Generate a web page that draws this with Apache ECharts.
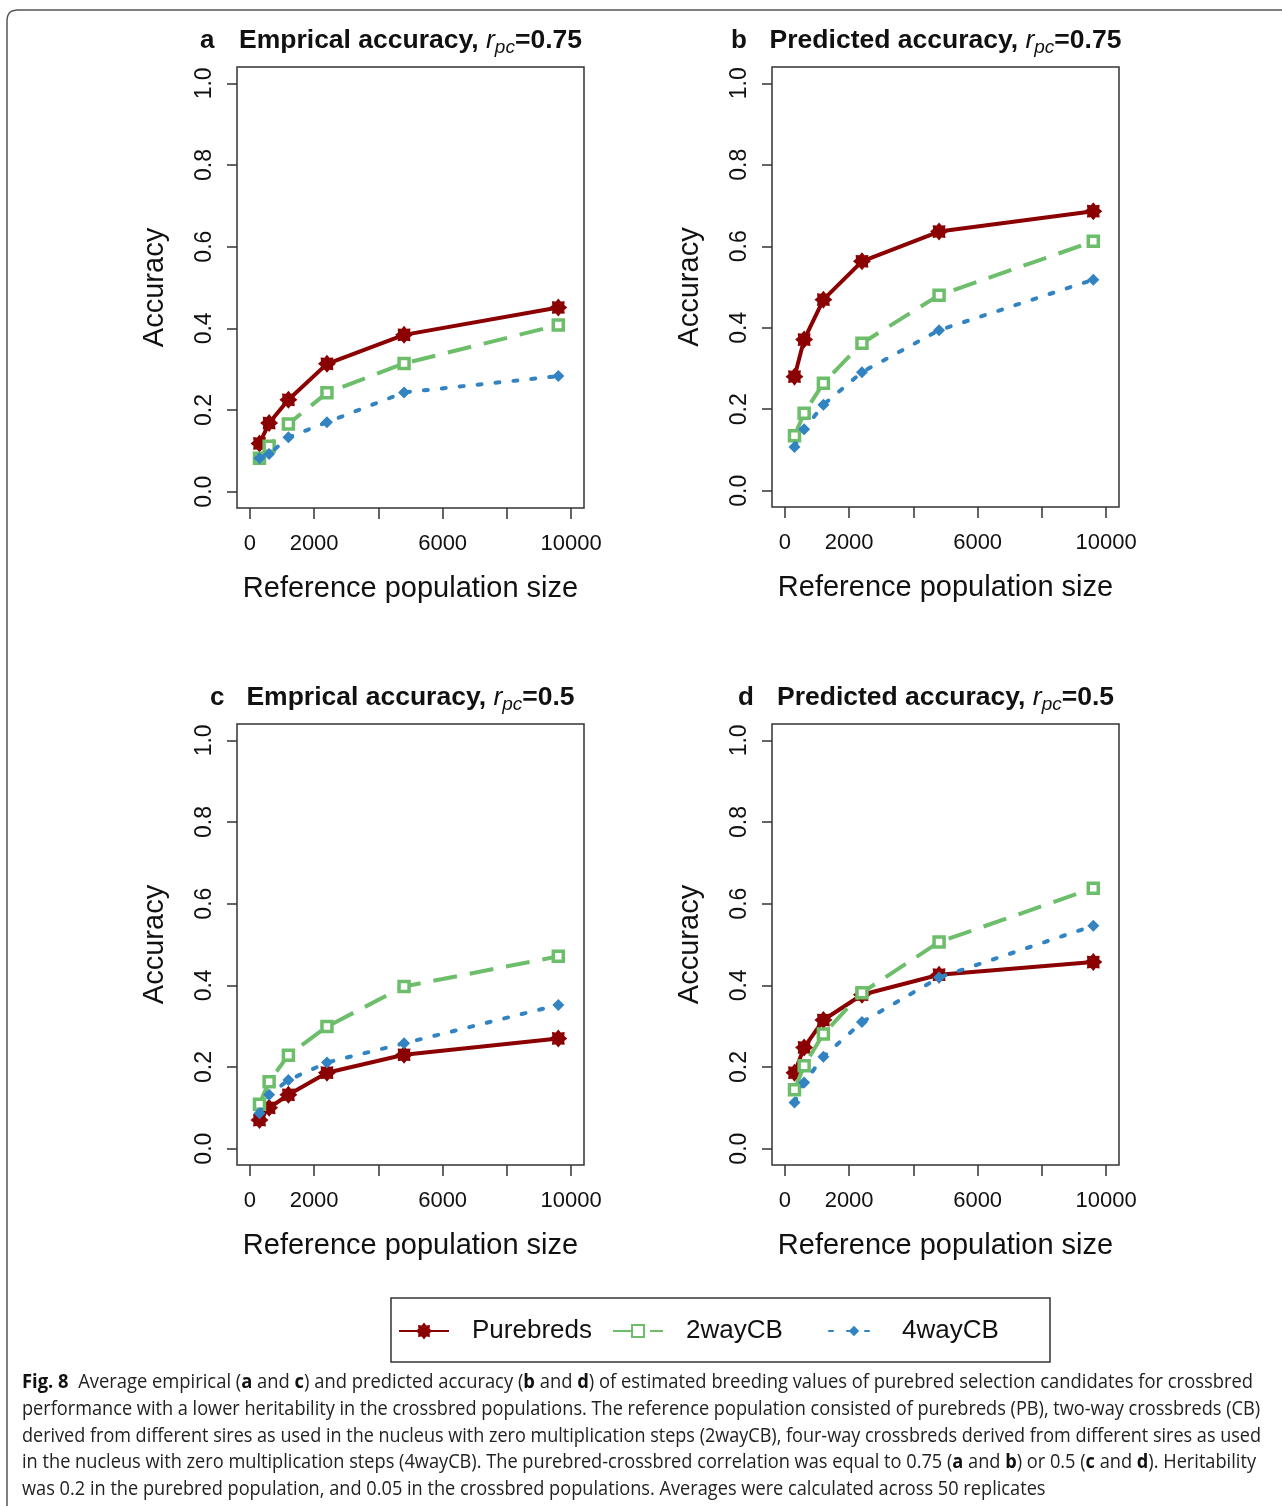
<!DOCTYPE html>
<html><head><meta charset="utf-8">
<script src="https://cdn.jsdelivr.net/npm/echarts@6/dist/echarts.min.js"></script>
<style>html,body{margin:0;padding:0;background:#fff}#chart{width:1282px;height:1506px}</style>
</head><body><div id="chart"></div>
<script>
// ---------------- data ----------------
const refSize = [300, 600, 1200, 2400, 4800, 9600];
const seriesNames = ['Purebreds', '2wayCB', '4wayCB'];
const aPurebreds = [0.118, 0.168, 0.225, 0.313, 0.384, 0.451];
const aTwoWay    = [0.082, 0.111, 0.166, 0.242, 0.314, 0.408];
const aFourWay   = [0.082, 0.092, 0.133, 0.170, 0.243, 0.283];
const bPurebreds = [0.280, 0.371, 0.469, 0.563, 0.636, 0.686];
const bTwoWay    = [0.135, 0.190, 0.264, 0.362, 0.480, 0.612];
const bFourWay   = [0.107, 0.151, 0.211, 0.291, 0.394, 0.518];
const cPurebreds = [0.070, 0.100, 0.132, 0.186, 0.230, 0.270];
const cTwoWay    = [0.109, 0.164, 0.229, 0.299, 0.397, 0.471];
const cFourWay   = [0.087, 0.132, 0.168, 0.211, 0.258, 0.352];
const dPurebreds = [0.186, 0.248, 0.315, 0.377, 0.426, 0.457];
const dTwoWay    = [0.144, 0.203, 0.281, 0.382, 0.506, 0.638];
const dFourWay   = [0.113, 0.162, 0.225, 0.310, 0.419, 0.546];
const xTicks = [0, 2000, 4000, 6000, 8000, 10000];
const xTickLabels = [0, 2000, 6000, 10000];
const yTicks = [0, 0.2, 0.4, 0.6, 0.8, 1.0];
const panelLetters = ['a', 'b', 'c', 'd'];
const panelTitles = ['Emprical accuracy, ', 'Predicted accuracy, ', 'Emprical accuracy, ', 'Predicted accuracy, '];
const panelRpc = ['0.75', '0.75', '0.5', '0.5'];
const xAxisTitle = 'Reference population size';
const yAxisTitle = 'Accuracy';
const captionLines = [
  [['Fig. 8', 1], ['  Average empirical (', 0], ['a', 1], [' and ', 0], ['c', 1], [') and predicted accuracy (', 0], ['b', 1], [' and ', 0], ['d', 1], [') of estimated breeding values of purebred selection candidates for crossbred', 0]],
  [['performance with a lower heritability in the crossbred populations. The reference population consisted of purebreds (PB), two-way crossbreds (CB)', 0]],
  [['derived from different sires as used in the nucleus with zero multiplication steps (2wayCB), four-way crossbreds derived from different sires as used', 0]],
  [['in the nucleus with zero multiplication steps (4wayCB). The purebred-crossbred correlation was equal to 0.75 (', 0], ['a', 1], [' and ', 0], ['b', 1], [') or 0.5 (', 0], ['c', 1], [' and ', 0], ['d', 1], ['). Heritability', 0]],
  [['was 0.2 in the purebred population, and 0.05 in the crossbred populations. Averages were calculated across 50 replicates', 0]]
];

const panelData = [
  [aPurebreds, aTwoWay, aFourWay],
  [bPurebreds, bTwoWay, bFourWay],
  [cPurebreds, cTwoWay, cFourWay],
  [dPurebreds, dTwoWay, dFourWay]
];

// ---------------- layout / style ----------------
const FF = '"Liberation Sans", Arial, Helvetica, sans-serif';
const CF = '"Open Sans", "Noto Sans", sans-serif';
const grids = [
  {left: 237, top: 67, width: 347, height: 441},
  {left: 772, top: 67, width: 347, height: 440},
  {left: 237, top: 724, width: 347, height: 441},
  {left: 772, top: 724, width: 347, height: 441}
];
const titleY = [41, 41, 698, 698];
const letterX = [200, 731, 210, 738];
const RED = '#8B0000', GREEN = '#6DBE6A', BLUE = '#3283C2';
// 8-armed asterisk-like star (inner radius 36)
const starPath = 'path://M100,50 L83.3,36.2 L85.36,14.64 L63.8,16.7 L50,0 L36.2,16.7 L14.64,14.64 L16.7,36.2 L0,50 L16.7,63.8 L14.64,85.36 L36.2,83.3 L50,100 L63.8,83.3 L85.36,85.36 L83.3,63.8 Z';

const seriesStyle = [
  {color: RED, symbol: starPath, symbolSize: 18, lineStyle: {color: RED, width: 4, type: 'solid'}, itemStyle: {color: RED}},
  {color: GREEN, symbol: 'rect', symbolSize: 10, lineStyle: {color: GREEN, width: 4, type: [24, 13]}, itemStyle: {color: '#fff', borderColor: GREEN, borderWidth: 3.5}},
  {color: BLUE, symbol: 'diamond', symbolSize: 12, lineStyle: {color: BLUE, width: 4, type: [4, 14], cap: 'round'}, itemStyle: {color: BLUE}}
];

const xAxes = [], yAxes = [], series = [], graphics = [];
grids.forEach((g, i) => {
  xAxes.push({
    gridIndex: i, type: 'value', min: -400, max: 10400, position: 'bottom',
    axisLine: {show: false, onZero: false},
    axisTick: {show: true, inside: false, customValues: xTicks, length: 11, lineStyle: {color: '#333', width: 1.5}},
    axisLabel: {customValues: xTickLabels, fontSize: 22, color: '#111', fontFamily: FF, margin: 25,
      formatter: v => String(Math.round(v))},
    splitLine: {show: false},
    name: xAxisTitle, nameLocation: 'middle', nameGap: 66,
    nameTextStyle: {fontSize: 29, color: '#111', fontFamily: FF}
  });
  yAxes.push({
    gridIndex: i, type: 'value', min: -0.04, max: 1.04, position: 'left',
    axisLine: {show: false, onZero: false},
    axisTick: {show: true, inside: false, customValues: yTicks, length: 10, lineStyle: {color: '#333', width: 1.5}},
    axisLabel: {customValues: yTicks, rotate: 90, fontSize: 23, color: '#111', fontFamily: FF, margin: 21,
      formatter: v => Number(v).toFixed(1)},
    splitLine: {show: false},
    name: yAxisTitle, nameLocation: 'middle', nameGap: 68, nameRotate: 90,
    nameTextStyle: {fontSize: 29, color: '#111', fontFamily: FF}
  });
  panelData[i].forEach((vals, s) => {
    const st = seriesStyle[s];
    series.push(Object.assign({
      type: 'line', name: seriesNames[s], xAxisIndex: i, yAxisIndex: i,
      data: refSize.map((x, k) => [x, vals[k]]),
      showSymbol: true, silent: true, z: 2 + s
    }, JSON.parse(JSON.stringify(st))));
  });
  graphics.push({
    type: 'text', x: letterX[i], y: titleY[i],
    style: {text: panelLetters[i], font: 'bold 26px ' + FF, fill: '#111', verticalAlign: 'middle', align: 'left'}
  });
  graphics.push({
    type: 'text', x: g.left + g.width / 2, y: titleY[i],
    style: {
      text: '{b|' + panelTitles[i] + '}{i|r}{s|pc}{b|=' + panelRpc[i] + '}',
      align: 'center', verticalAlign: 'middle', fill: '#111',
      rich: {
        b: {fontSize: 26.5, fontWeight: 'bold', fontFamily: FF, fill: '#111'},
        i: {fontSize: 26.5, fontStyle: 'italic', fontFamily: FF, fill: '#111'},
        s: {fontSize: 19, fontStyle: 'italic', fontFamily: FF, fill: '#111', padding: [14, 0, 0, 0]}
      }
    }
  });
});

graphics.push({
  type: 'polyline', silent: true,
  shape: {points: [[7, 1506], [7, 20], [7.6, 16.2], [9.3, 13], [12, 11], [17, 10], [1282, 10]]},
  style: {fill: null, stroke: '#555', lineWidth: 1.5}
});
graphics.push({
  type: 'rect', silent: true,
  shape: {x: 391, y: 1298, width: 659, height: 64},
  style: {fill: 'transparent', stroke: '#333', lineWidth: 1.5}
});

const mctx = document.createElement('canvas').getContext('2d');
function measure(parts, size) {
  let w = 0;
  parts.forEach(p => { mctx.font = (p[1] ? 'bold ' : '') + size + 'px ' + CF; w += mctx.measureText(p[0]).width; });
  return w;
}
const capSize = 20;
const capY = [1382, 1409, 1436, 1462, 1489];
const capW = [1231, 1238, 1239, 1234, 0];
const scales = captionLines.map((parts, k) => capW[k] ? capW[k] / measure(parts, capSize) : 0);
const avgScale = (scales[0] + scales[1] + scales[2] + scales[3]) / 4;
captionLines.forEach((parts, k) => {
  const sc = scales[k] || avgScale;
  graphics.push({
    type: 'text', x: 22, y: capY[k], scaleX: sc, silent: true,
    style: {
      text: parts.map(p => '{' + (p[1] ? 'B' : 'N') + '|' + p[0] + '}').join(''),
      verticalAlign: 'middle', align: 'left',
      rich: {
        N: {fontSize: capSize, fontFamily: CF, fill: '#222'},
        B: {fontSize: capSize, fontFamily: CF, fontWeight: 'bold', fill: '#111'}
      }
    }
  });
});

const legendPos = [
  {name: 'Purebreds', left: 398, itemHeight: 21},
  {name: '2wayCB', left: 612, itemHeight: 15},
  {name: '4wayCB', left: 828, itemHeight: 13}
];
const legends = legendPos.map(l => ({
  data: [l.name], left: l.left, top: 1331 - 16, padding: 0, itemGap: 0,
  itemWidth: 50, itemHeight: l.itemHeight, selectedMode: false,
  textStyle: {fontSize: 26, color: '#111', fontFamily: FF, padding: [0, 0, 0, 18], lineHeight: 32}
}));

const chart = echarts.init(document.getElementById('chart'), null, {renderer: 'canvas'});
chart.setOption({
  animation: false,
  backgroundColor: '#fff',
  grid: grids.map(g => Object.assign({show: true, borderColor: '#333', borderWidth: 1.5, backgroundColor: 'transparent'}, g)),
  xAxis: xAxes, yAxis: yAxes, series: series,
  legend: legends,
  graphic: graphics
});
</script></body></html>
